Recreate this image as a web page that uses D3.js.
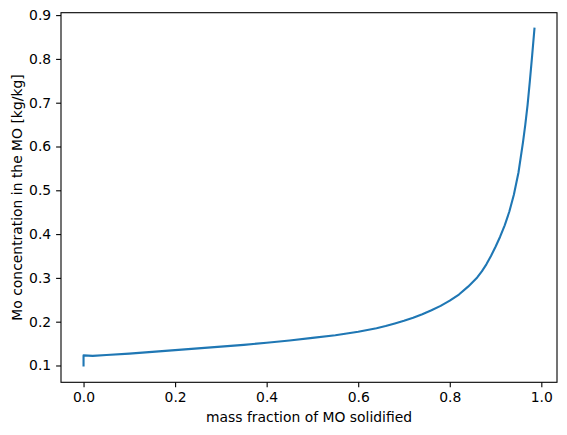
<!DOCTYPE html>
<html><head><meta charset="utf-8">
<script src="https://cdn.jsdelivr.net/npm/d3@7"></script>
<style>body{margin:0;background:#fff}</style>
</head><body>
<script>
const fraction = [0, 0, 0.02, 0.05, 0.10, 0.15, 0.20, 0.25, 0.30, 0.35, 0.40, 0.45, 0.50, 0.55, 0.60, 0.62, 0.64, 0.66, 0.68, 0.70, 0.72, 0.74, 0.76, 0.78, 0.80, 0.82, 0.84, 0.86, 0.87, 0.88, 0.89, 0.90, 0.91, 0.92, 0.93, 0.94, 0.95, 0.96, 0.965, 0.97, 0.975, 0.98, 0.985];
const concentration = [0.100, 0.123, 0.122, 0.124, 0.127, 0.131, 0.135, 0.139, 0.143, 0.147, 0.152, 0.157, 0.163, 0.169, 0.177, 0.181, 0.185, 0.190, 0.196, 0.202, 0.209, 0.217, 0.226, 0.236, 0.248, 0.262, 0.280, 0.301, 0.315, 0.331, 0.350, 0.371, 0.394, 0.420, 0.451, 0.490, 0.540, 0.610, 0.650, 0.695, 0.750, 0.808, 0.869];
const xTicks = [0.0, 0.2, 0.4, 0.6, 0.8, 1.0];
const yTicks = [0.1, 0.2, 0.3, 0.4, 0.5, 0.6, 0.7, 0.8, 0.9];
const xLabel = "mass fraction of MO solidified";
const yLabel = "Mo concentration in the MO [kg/kg]";

const W = 567, H = 435;
const L = 61, R = 557, T = 12.7, B = 382.3;
const svg = d3.select("body").append("svg").attr("width", W).attr("height", H)
  .style("font-family", "'DejaVu Sans', sans-serif");

const x = d3.scaleLinear().domain([-0.04925, 1.03425]).range([L, R]);
const y = d3.scaleLinear().domain([0.0616, 0.9055]).range([B, T]);

const data = fraction.map((f, i) => [f, concentration[i]]);
svg.append("path").datum(data)
  .attr("fill", "none").attr("stroke", "#1f77b4").attr("stroke-width", 2.1)
  .attr("stroke-linejoin", "round").attr("stroke-linecap", "square")
  .attr("d", d3.line().x(d => x(d[0])).y(d => y(d[1])));

const xAxis = svg.append("g").attr("transform", `translate(0,${B})`)
  .call(d3.axisBottom(x).tickValues(xTicks).tickFormat(d3.format(".1f")).tickSize(4.9).tickPadding(4.9));
const yAxis = svg.append("g").attr("transform", `translate(${L},0)`)
  .call(d3.axisLeft(y).tickValues(yTicks).tickFormat(d3.format(".1f")).tickSize(4.9).tickPadding(4.9));
[xAxis, yAxis].forEach(a => {
  a.select(".domain").remove();
  a.selectAll("line").attr("stroke", "#000").attr("stroke-width", 1.1);
  a.selectAll("text").attr("fill", "#000").style("font-size", "13.9px").style("font-family", "'DejaVu Sans', sans-serif");
});

svg.append("rect").attr("x", L).attr("y", T).attr("width", R - L).attr("height", B - T)
  .attr("fill", "none").attr("stroke", "#000").attr("stroke-width", 1.1);

svg.append("text").attr("x", (L + R) / 2).attr("y", 422).attr("text-anchor", "middle")
  .style("font-size", "13.9px").text(xLabel);
svg.append("text").attr("transform", `translate(21.5,${(T + B) / 2}) rotate(-90)`).attr("text-anchor", "middle")
  .style("font-size", "13.9px").text(yLabel);
</script>
</body></html>
